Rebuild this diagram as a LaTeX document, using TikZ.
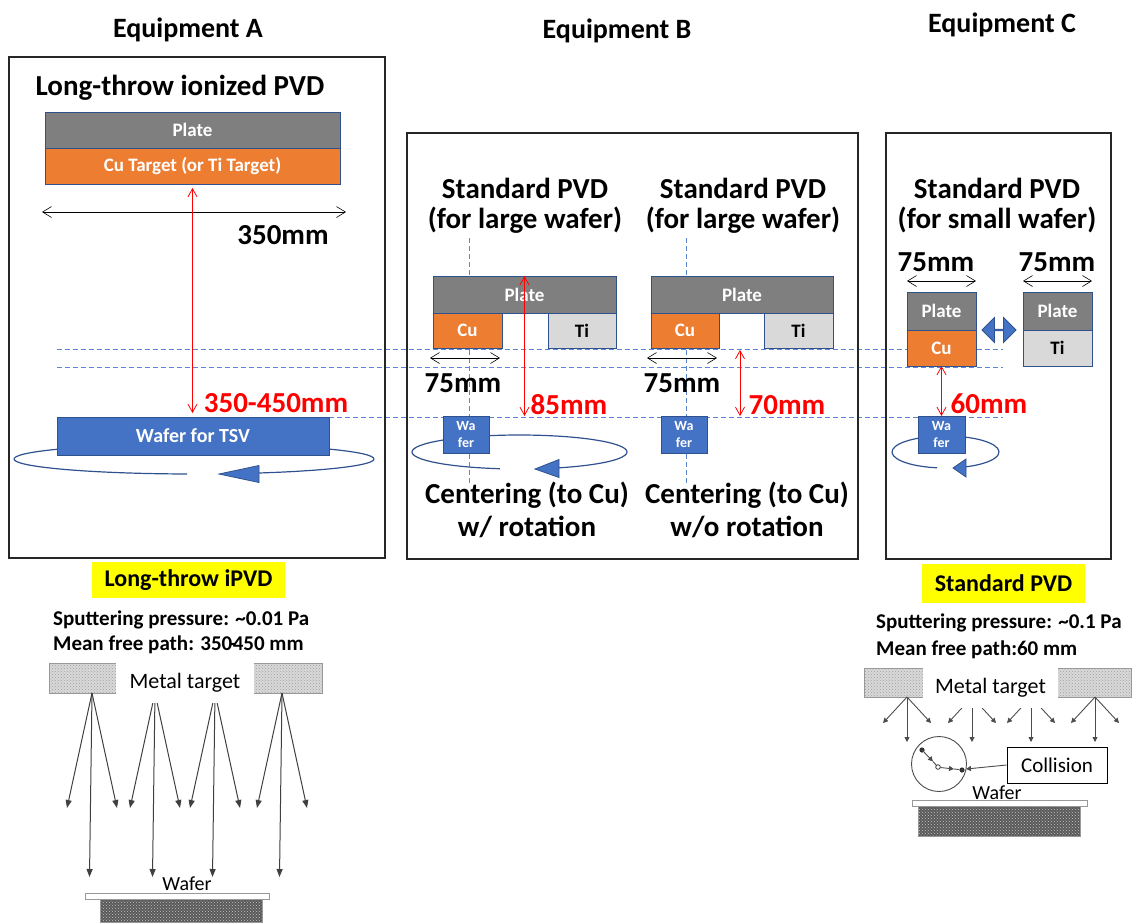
\documentclass[tikz,border=0pt]{standalone}
\usepackage{fontspec}
\setmainfont{Carlito}
\usetikzlibrary{arrows.meta,shapes.arrows,patterns,calc}

\definecolor{plategray}{HTML}{7F7F7F}
\definecolor{edge}{HTML}{2F528F}
\definecolor{cuorange}{HTML}{ED7D31}
\definecolor{tigray}{HTML}{D9D9D9}
\definecolor{wblue}{HTML}{4472C4}
\definecolor{guideblue}{HTML}{5B86D0}
\definecolor{hilite}{HTML}{FFFF00}
\definecolor{dimred}{HTML}{FF0000}

\pgfdeclarelayer{background}
\pgfsetlayers{background,main}

\begin{document}
\begin{tikzpicture}[x=1pt,y=-1pt,
  sz/.style 2 args={minimum width=#1pt, minimum height=#2pt},
  head/.style={font=\bfseries\fontsize{28}{32}\selectfont, inner sep=0},
  big/.style={font=\bfseries\fontsize{29}{33}\selectfont, inner sep=0},
  redlbl/.style={big, text=dimred},
  frame/.style={draw=black!85, line width=1.6pt, inner sep=0},
  blk/.style={draw=edge, line width=1pt, inner sep=0, outer sep=0, text=white,
              font=\bfseries\fontsize{19}{22}\selectfont},
  plate/.style={blk, fill=plategray},
  cu/.style={blk, fill=cuorange},
  ti/.style={blk, fill=tigray, text=black},
  wafer/.style={blk, fill=wblue},
  smallwafer/.style={wafer, align=center, font=\bfseries\fontsize{14}{17}\selectfont},
  dim/.style={black, line width=0.6pt, {Straight Barb[length=9pt,width=11pt]}-{Straight Barb[length=9pt,width=11pt]}},
  reddim/.style={dimred, line width=0.8pt, {Straight Barb[length=8pt,width=9pt]}-{Straight Barb[length=8pt,width=9pt]}},
  guide/.style={guideblue, line width=0.9pt, dash pattern=on 5pt off 3pt},
  rot/.style={edge, line width=1.2pt},
  rotarrow/.style={fill=wblue, draw=edge, line width=0.8pt, line join=miter},
  note/.style={font=\bfseries\fontsize{21}{25}\selectfont, inner sep=0, anchor=west},
  tag/.style={fill=hilite, inner sep=0, font=\bfseries\fontsize{24}{28}\selectfont},
  target/.style={draw=gray!80, inner sep=0, preaction={fill=gray!30},
                 pattern=crosshatch dots, pattern color=gray!75},
  base/.style={draw=gray!80, inner sep=0, preaction={fill=black!65},
               pattern=crosshatch dots, pattern color=gray!45},
  labelbox/.style={fill=white, inner sep=0, font=\fontsize{22}{26}\selectfont},
  ray/.style={black!75, line width=1pt, -{Triangle[length=8pt,width=6pt]}},
  sray/.style={black!70, line width=0.9pt, -{Triangle[length=5pt,width=5pt]}}
]
\useasboundingbox (0,0) rectangle (1133,922);

% ---------- headings ----------
\node[head] (hA) at (188,30) {Equipment A};
\node[head] (hB) at (617,31) {Equipment B};
\node[head] (hC) at (1002,25) {Equipment C};

% ---------- frames ----------
\node[frame, sz={376}{501}] (boxA) at (197,307.5) {};
\node[frame, sz={451}{426}] (boxB) at (632.5,346) {};
\node[frame, sz={225}{426}] (boxC) at (998.5,346) {};

% ---------- Equipment A ----------
\node[big] (tA) at (180,88) {Long-throw ionized PVD};
\node[plate, sz={295}{36}] (plA) at (192.5,130) {Plate};
\node[cu, sz={295}{36}] (cuA) at (192.5,166) {Cu Target (or Ti Target)};
\coordinate (dA1) at (42,212);
\coordinate (dA2) at (346,212);
\draw[dim] (dA1) -- (dA2);
\node[big] (wA350) at (283,235) {350mm};
\node[wafer, sz={272}{38}, font=\bfseries\fontsize{20}{24}\selectfont] (wA) at (193,436) {Wafer for TSV};
\draw[reddim, shorten <=4pt, shorten >=4pt] (cuA.south) -- (cuA.south |- wA.north);
\node[redlbl] (rA) at (276,403) {350-450mm};

% ---------- Equipment B, left ----------
\node[big] (tB1a) at (525,188) {Standard PVD};
\node[big] (tB1b) at (525,220) {(for large wafer)};
\node[plate, sz={183}{37}] (plB1) at (524.5,294.5) {Plate};
\node[cu, sz={69}{35}] (cuB1) at (467.5,330.5) {Cu};
\node[ti, sz={68}{35}] (tiB1) at (582,330.5) {Ti};
\coordinate (dB1a) at (430,358);
\coordinate (dB1b) at (500,358);
\draw[dim] (dB1a) -- (dB1b);
\node[big] (mB1) at (463,383) {75mm};
\node[smallwafer, sz={46}{37}] (wB1) at (466,434.5) {Wa\\fer};
\coordinate (rB1) at (524.5,416);
\draw[reddim] (plB1.north) -- (rB1);
\node[redlbl] (lB1) at (569,405) {85mm};
\node[big] (cB1a) at (527,495) {Centering (to Cu)};
\node[big] (cB1b) at (527,527) {w/ rotation};

% ---------- Equipment B, right ----------
\node[big] (tB2a) at (743,188) {Standard PVD};
\node[big] (tB2b) at (743,220) {(for large wafer)};
\node[plate, sz={182}{37}] (plB2) at (742,294.5) {Plate};
\node[cu, sz={68}{35}] (cuB2) at (685,330.5) {Cu};
\node[ti, sz={69}{35}] (tiB2) at (798.5,330.5) {Ti};
\coordinate (dB2a) at (647,358);
\coordinate (dB2b) at (717,358);
\draw[dim] (dB2a) -- (dB2b);
\node[big] (mB2) at (682,383) {75mm};
\node[smallwafer, sz={46}{37}] (wB2) at (684,434.5) {Wa\\fer};
\coordinate (rB2a) at (740,350);
\coordinate (rB2b) at (740,416);
\draw[reddim] (rB2a) -- (rB2b);
\node[redlbl] (lB2) at (787,405) {70mm};
\node[big] (cB2a) at (747,495) {Centering (to Cu)};
\node[big] (cB2b) at (747,527) {w/o rotation};

% ---------- Equipment C ----------
\node[big] (tCa) at (997,188) {Standard PVD};
\node[big] (tCb) at (997,220) {(for small wafer)};
\node[big] (mC1) at (936,262) {75mm};
\node[big] (mC2) at (1057,262) {75mm};
\node[plate, sz={69}{38}] (plC1) at (941.5,311) {Plate};
\node[cu, sz={69}{36}] (cuC1) at (941.5,348) {Cu};
\node[plate, sz={69}{38}] (plC2) at (1057.5,311) {Plate};
\node[ti, sz={69}{36}] (tiC2) at (1057.5,348) {Ti};
\draw[dim] ([yshift=11pt]plC1.north west) -- ([yshift=11pt]plC1.north east);
\draw[dim] ([yshift=11pt]plC2.north west) -- ([yshift=11pt]plC2.north east);
\node[double arrow, fill=wblue, draw=edge, line width=0.8pt, inner sep=0,
      minimum width=25pt, minimum height=34pt, double arrow head extend=6pt] (swap) at (999,330) {};
\node[smallwafer, sz={47}{37}] (wC) at (941.5,434.5) {Wa\\fer};
\draw[reddim] (cuC1.south) -- (cuC1.south |- wC.north);
\node[redlbl] (lC) at (989,404) {60mm};

% ---------- guide lines and rotation paths ----------
\begin{pgfonlayer}{background}
  \draw[guide] (57,349) -- (1003,349);
  \draw[guide] (57,367) -- (1003,367);
  \draw[guide] (wA.north east) -- (1003,417);
  \draw[guide] (469,238) -- (469,483);
  \draw[guide] (686,238) -- (686,483);
  % wafer A rotation
  \coordinate (eA) at (194,459);
  \draw[rot] (eA) ++(92.2:180 and 15) arc[start angle=92.2, end angle=428.8, x radius=180, y radius=15];
  \filldraw[rotarrow] (219,474) -- (259,465.5) -- (259,482.5) -- cycle;
  % wafer B rotation
  \coordinate (eB) at (519.5,452);
  \draw[rot] (eB) ++(100.5:107.5 and 17) arc[start angle=100.5, end angle=428.4, x radius=107.5, y radius=17];
  \filldraw[rotarrow] (535,469) -- (559,459.5) -- (559,477.5) -- cycle;
  % wafer C rotation
  \coordinate (eC) at (945.5,452);
  \draw[rot] (eC) ++(99.1:53.5 and 16) arc[start angle=99.1, end angle=428.6, x radius=53.5, y radius=16];
  \filldraw[rotarrow] (953,468) -- (966,459) -- (966,477) -- cycle;
\end{pgfonlayer}

% ---------- long-throw iPVD sketch ----------
\node[tag, sz={193}{36}] (tagA) at (188.5,580) {Long-throw iPVD};
\node[note] (pA) at (53,620) {Sputtering pressure: \textasciitilde0.01 Pa};
\node[note] (fA) at (53,645) {Mean free path: 350\kern-3pt-\kern-3pt450 mm};
\node[target, sz={273}{30}] (tgA) at (185.5,678) {};
\foreach \sx/\sy in {92/693,155/693,215/693,282/693}{
  \draw[ray] (\sx,\sy) -- (\sx-25,808);
  \draw[ray] (\sx,\sy) -- (\sx-2.5,877);
  \draw[ray] (\sx,\sy) -- (\sx+25,808);
}
\node[labelbox, sz={138}{40}] (mtA) at (185,683) {Metal target};
\node[inner sep=0, font=\fontsize{20}{24}\selectfont] (wfA) at (187,884) {Wafer};
\node[draw=gray!80, fill=white, inner sep=0, sz={184}{6}] (wbA) at (177,896) {};
\node[base, sz={162}{23}] (wsA) at (181,910.5) {};

% ---------- standard PVD sketch ----------
\node[tag, sz={163}{39}] (tagC) at (1003.5,583.5) {Standard PVD};
\node[note] (pC) at (876,623) {Sputtering pressure: \textasciitilde0.1 Pa};
\node[note] (fC) at (876,650) {Mean free path:60 mm};
\node[target, sz={267}{29}] (tgC) at (997.5,682.5) {};
\foreach \sx in {907,972,1031,1095}{
  \draw[sray] (\sx,697) -- (\sx-24,723);
  \draw[sray] (\sx,697) -- (\sx,742);
  \draw[sray] (\sx,697) -- (\sx+24,723);
}
\node[labelbox, sz={135}{40}] (mtC) at (990.5,688) {Metal target};
\node[draw=black!70, line width=0.9pt, inner sep=0, circle, minimum size=55pt] (coll) at (939,764) {};
\fill[black!80] (922,750) circle[radius=2.6];
\draw[sray] (922,750) -- (933,761.5);
\draw[black!70, line width=0.9pt] (933,761.5) -- (936.5,765.5);
\draw[black!80, fill=white, line width=0.8pt] (938,767) circle[radius=2.3];
\draw[sray] (940.5,767.5) -- (954,769);
\draw[black!70, line width=0.9pt] (954,769) -- (959,769.5);
\fill[black!80] (962,770) circle[radius=2.6];
\node[draw=black, line width=1pt, fill=white, inner sep=0, sz={100}{36},
      font=\fontsize{21}{25}\selectfont] (cl) at (1057,765) {Collision};
\draw[sray] (cl.west) -- (966,769);
\node[inner sep=0, font=\fontsize{20}{24}\selectfont] (wfC) at (997,793) {Wafer};
\node[draw=gray!80, fill=white, inner sep=0, sz={175}{6}] (wbC) at (999.5,803) {};
\node[base, sz={162}{30}] (wsC) at (999,821) {};

\end{tikzpicture}
\end{document}
